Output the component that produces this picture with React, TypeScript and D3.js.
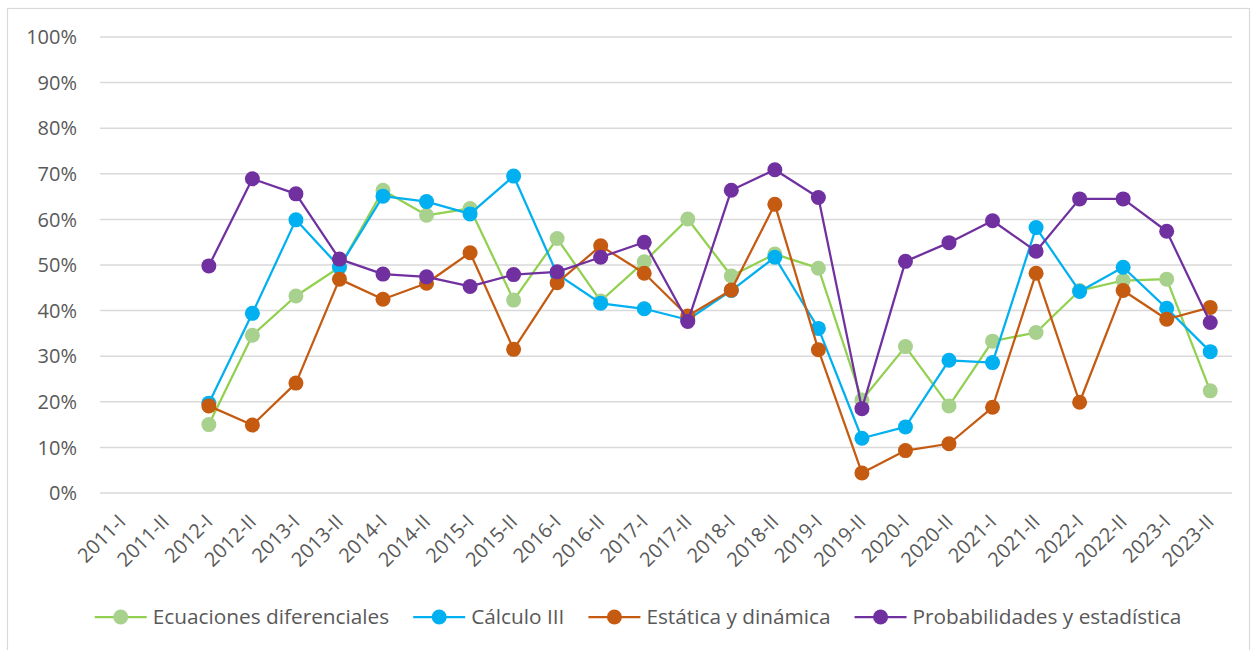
import * as d3 from 'd3';

const categories = [
  '2011-I', '2011-II', '2012-I', '2012-II', '2013-I', '2013-II', '2014-I', '2014-II',
  '2015-I', '2015-II', '2016-I', '2016-II', '2017-I', '2017-II', '2018-I', '2018-II',
  '2019-I', '2019-II', '2020-I', '2020-II', '2021-I', '2021-II', '2022-I', '2022-II',
  '2023-I', '2023-II',
];

const ecuaciones = [null, null, 15.0, 34.6, 43.2, 49.5, 66.4, 60.9, 62.4, 42.3, 55.8, 42.1, 50.7, 60.1, 47.6, 52.4, 49.3, 20.4, 32.1, 19.1, 33.3, 35.2, 44.4, 46.6, 46.9, 22.4];
const calculo = [null, null, 19.7, 39.4, 59.9, 49.6, 65.1, 63.9, 61.2, 69.5, 48.0, 41.6, 40.4, 38.0, 44.4, 51.7, 36.1, 12.0, 14.5, 29.1, 28.6, 58.2, 44.2, 49.5, 40.5, 31.0];
const estatica = [null, null, 19.1, 14.9, 24.1, 46.9, 42.5, 46.0, 52.7, 31.5, 46.1, 54.2, 48.2, 38.8, 44.5, 63.3, 31.4, 4.4, 9.3, 10.8, 18.8, 48.2, 19.9, 44.4, 38.1, 40.7];
const probabilidades = [null, null, 49.8, 68.9, 65.6, 51.3, 48.0, 47.4, 45.3, 47.9, 48.5, 51.7, 55.0, 37.6, 66.4, 70.9, 64.8, 18.5, 50.8, 54.9, 59.7, 53.0, 64.5, 64.5, 57.4, 37.4];

const yTicks = [0, 10, 20, 30, 40, 50, 60, 70, 80, 90, 100];

const series = [
  { name: 'Ecuaciones diferenciales', values: ecuaciones, line: '#92D050', marker: '#A9D18E' },
  { name: 'Cálculo III', values: calculo, line: '#00B0F0', marker: '#00B0F0' },
  { name: 'Estática y dinámica', values: estatica, line: '#C55A11', marker: '#C55A11' },
  { name: 'Probabilidades y estadística', values: probabilidades, line: '#7030A0', marker: '#7030A0' },
];

const W = 1258;
const H = 650;
const FONT = '"Open Sans", Lato, sans-serif';
const FS = 20;
const LEGEND_FS = 20.8;
const TXT = '#595959';

function measure(text: string) {
  const ctx = document.createElement('canvas').getContext('2d');
  if (!ctx) return text.length * LEGEND_FS * 0.5;
  ctx.font = `${LEGEND_FS}px "Open Sans"`;
  return ctx.measureText(text).width;
}

export default function App() {
  const x = d3.scaleBand().domain(categories).range([100, 1232]);
  const y = d3.scaleLinear().domain([0, 100]).range([493, 37]);
  const cx = (c: string) => (x(c) ?? 0) + x.bandwidth() / 2;

  const line = d3.line<number | null>()
    .defined(d => d !== null)
    .x((_, i) => cx(categories[i]))
    .y(d => y(d as number));

  // legend layout, centred under the chart
  const symW = 52;
  const gapText = 6;
  const gapItem = 24;
  const widths = series.map(s => symW + gapText + measure(s.name));
  const total = d3.sum(widths) + gapItem * (series.length - 1);
  let lx = 638 - total / 2;
  const legend = series.map((s, i) => {
    const item = { ...s, x: lx };
    lx += widths[i] + gapItem;
    return item;
  });
  const legendY = 617;

  return (
    <svg width={W} height={H} style={{ position: 'absolute', left: 0, top: 0, background: '#fff' }} fontFamily={FONT}>
      <rect x={7.5} y={8.5} width={1242} height={645} fill="#fff" stroke="#D9D9D9" strokeWidth={1.2} />
      {yTicks.map(t => (
        <g key={t}>
          <line x1={100} x2={1232} y1={y(t)} y2={y(t)} stroke="#D9D9D9" strokeWidth={1.5} />
          <text x={77} y={y(t)} dy="0.36em" textAnchor="end" fontSize={FS} fill={TXT}>{t}%</text>
        </g>
      ))}
      {categories.map(c => (
        <text
          key={c}
          transform={`translate(${cx(c)},${518}) rotate(-45)`}
          textAnchor="end"
          dy="0.36em"
          fontSize={FS}
          fill={TXT}
        >{c}</text>
      ))}
      {series.map(s => (
        <g key={s.name}>
          <path d={line(s.values) ?? ''} fill="none" stroke={s.line} strokeWidth={2.25} strokeLinejoin="round" />
          {s.values.map((v, i) => v === null ? null : (
            <circle key={i} cx={cx(categories[i])} cy={y(v)} r={7.5} fill={s.marker} />
          ))}
        </g>
      ))}
      {legend.map(s => (
        <g key={s.name}>
          <line x1={s.x} x2={s.x + symW} y1={legendY} y2={legendY} stroke={s.line} strokeWidth={2.25} />
          <circle cx={s.x + symW / 2} cy={legendY} r={7.5} fill={s.marker} />
          <text x={s.x + symW + gapText} y={legendY} dy="0.36em" fontSize={LEGEND_FS} fill={TXT}>{s.name}</text>
        </g>
      ))}
    </svg>
  );
}
